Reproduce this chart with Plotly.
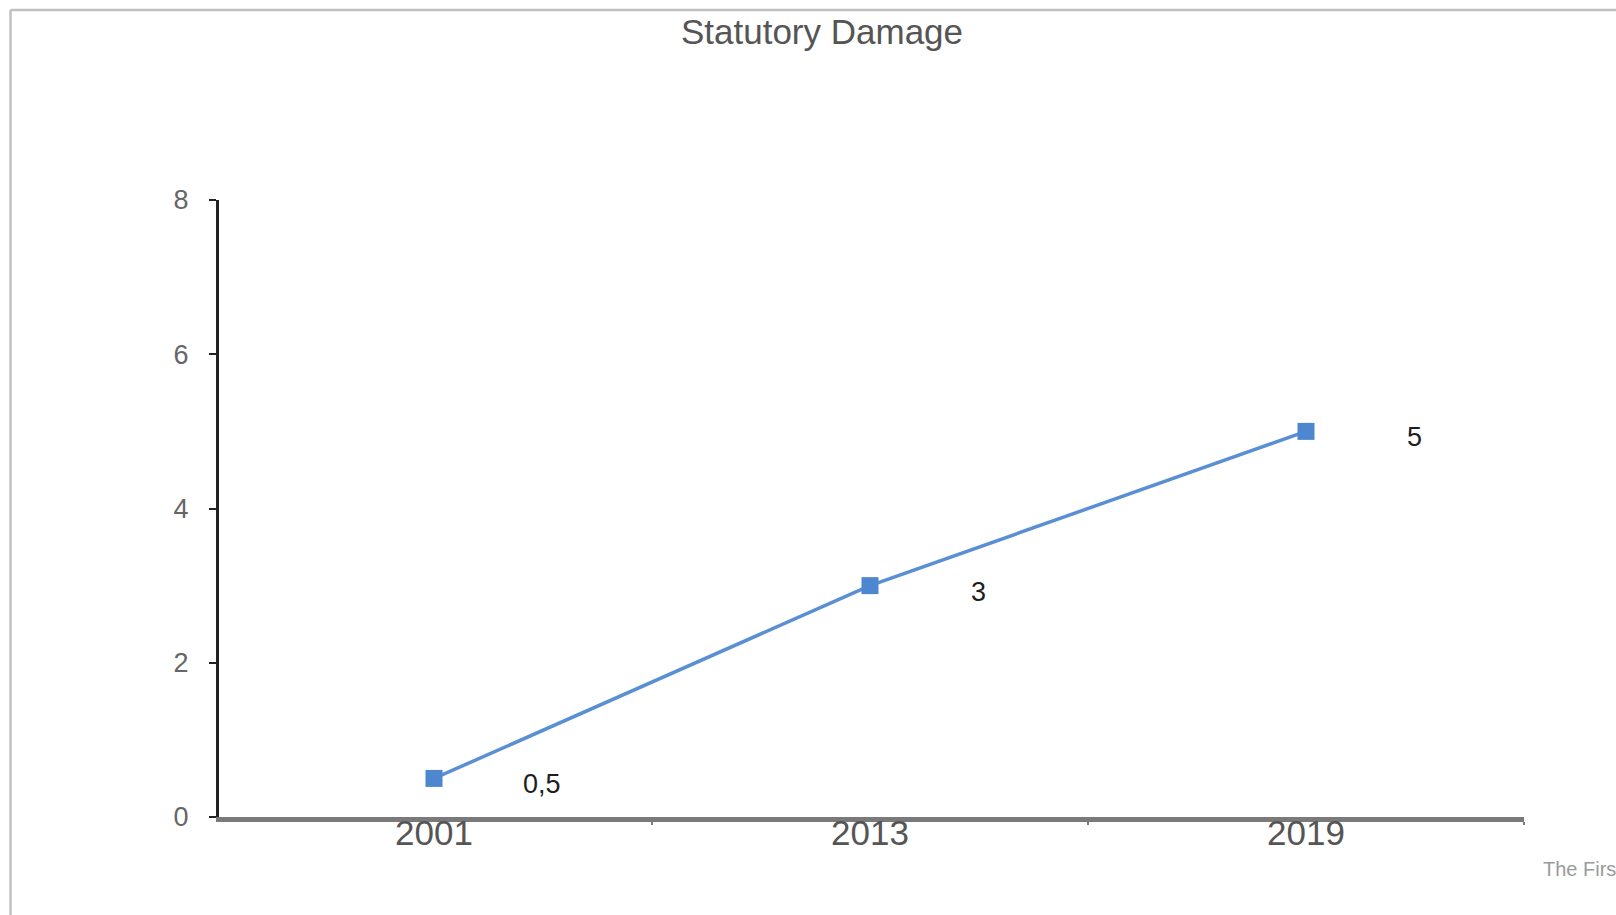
import plotly.graph_objects as go

# Chart data
years = ["2001", "2013", "2019"]
damage = [0.5, 3, 5]
y_ticks = [0, 2, 4, 6, 8]

W, H = 1616, 915
M = dict(l=219, r=92, t=200, b=98)
PW = W - M["l"] - M["r"]
PH = H - M["t"] - M["b"]


def px_x(px):
    return (px - M["l"]) / PW


def px_y(py):
    return (H - M["b"] - py) / PH


FONT = "Liberation Sans, Arial, sans-serif"

fig = go.Figure()
fig.add_trace(go.Scatter(
    x=years,
    y=damage,
    mode="lines+markers",
    line=dict(color="#5b8fd3", width=3.5),
    marker=dict(symbol="square", size=17, color="#4d87cf"),
    showlegend=False,
    hoverinfo="skip",
))

# value labels to the right of each point (comma decimal separator);
# x is the category index on the category axis
for i, v in enumerate(damage):
    fig.add_annotation(
        x=i, y=v, xref="x", yref="y",
        text=f"{v:g}".replace(".", ","),
        showarrow=False, xshift=108, yshift=-6,
        font=dict(family=FONT, size=27, color="#1e1e1e"),
    )

# source note in the lower right corner
fig.add_annotation(
    x=px_x(1541), y=px_y(869), xref="paper", yref="paper",
    text="The Firs", showarrow=False, xanchor="left", yanchor="middle",
    font=dict(family=FONT, size=20, color="#9a9a9a"),
)

# outer frame (left and top edges)
fig.add_shape(type="line", xref="paper", yref="paper",
              x0=px_x(10.5), x1=px_x(10.5), y0=px_y(10), y1=px_y(H + 5),
              line=dict(color="#c0c0c0", width=2.5))
fig.add_shape(type="line", xref="paper", yref="paper",
              x0=px_x(10.5), x1=px_x(W + 5), y0=px_y(10), y1=px_y(10),
              line=dict(color="#c0c0c0", width=2.5))

fig.update_layout(
    width=W, height=H,
    margin=M,
    paper_bgcolor="white",
    plot_bgcolor="white",
    title=dict(
        text="Statutory Damage",
        x=822 / W, xanchor="center",
        y=1 - 32 / H, yanchor="middle",
        font=dict(family=FONT, size=35, color="#555555"),
    ),
    xaxis=dict(
        type="category",
        categoryorder="array", categoryarray=years,
        range=[-0.5 + 3 / 436, len(years) - 0.5],
        showline=True, linecolor="#7a7a7a", linewidth=4.5,
        showgrid=False, zeroline=False,
        ticks="outside", tickson="boundaries", ticklen=3, tickwidth=2,
        tickcolor="#7a7a7a",
        ticklabelstandoff=-19,
        tickfont=dict(family=FONT, size=35, color="#555555"),
    ),
    yaxis=dict(
        range=[0, 8],
        tickvals=y_ticks,
        showline=True, linecolor="#222222", linewidth=3,
        showgrid=False, zeroline=False,
        ticks="outside", ticklen=7, tickwidth=2, tickcolor="#222222",
        ticklabelstandoff=15,
        tickfont=dict(family=FONT, size=27, color="#666666"),
    ),
)

fig.write_html("out.html")
